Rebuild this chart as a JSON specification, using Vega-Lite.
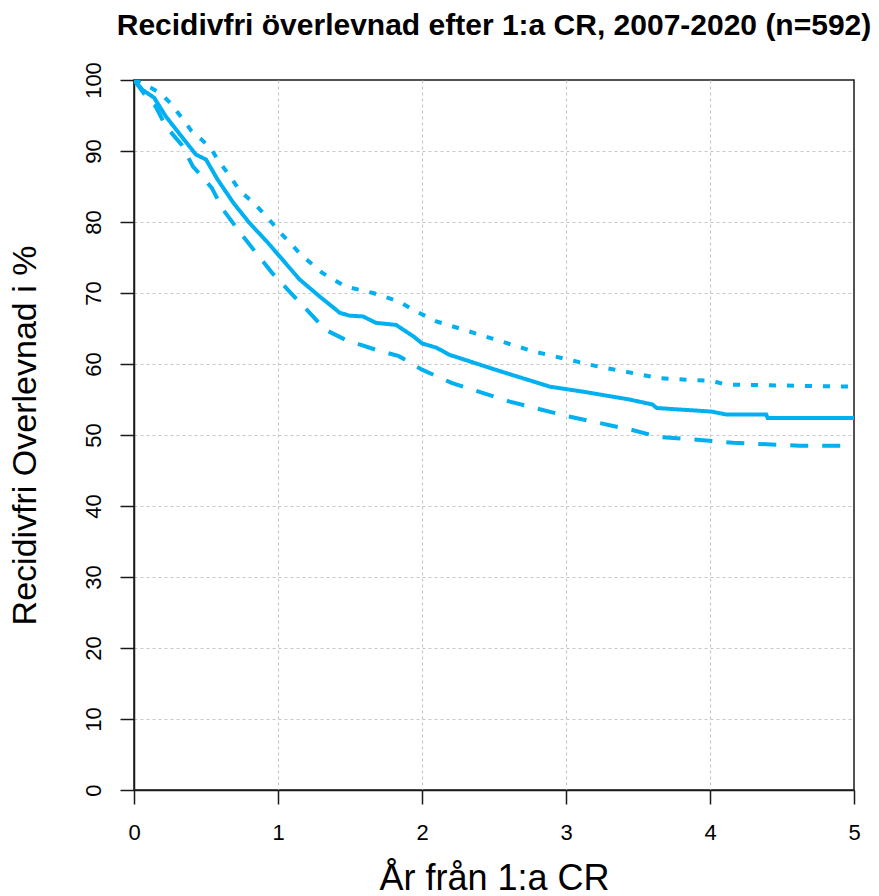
{
  "$schema": "https://vega.github.io/schema/vega-lite/v6.json",
  "width": 720,
  "height": 710,
  "autosize": {"type": "none"},
  "padding": {"left": 134, "top": 80, "right": 25, "bottom": 106},
  "background": "white",
  "title": {
    "text": "Recidivfri överlevnad efter 1:a CR, 2007-2020 (n=592)",
    "font": "Liberation Sans",
    "fontSize": 30,
    "fontWeight": "bold",
    "color": "black",
    "anchor": "middle",
    "frame": "group",
    "baseline": "alphabetic",
    "offset": -3
  },
  "config": {
    "view": {"stroke": "#1a1a1a", "strokeWidth": 1.5},
    "axis": {
      "labelFont": "Liberation Sans",
      "titleFont": "Liberation Sans",
      "labelColor": "#000",
      "titleColor": "#000",
      "titleFontWeight": "normal",
      "domainColor": "#1a1a1a",
      "domainWidth": 1.5,
      "tickColor": "#1a1a1a",
      "tickWidth": 1.5,
      "tickSize": 14,
      "gridColor": "#c8c8c8",
      "gridDash": [3, 3],
      "gridWidth": 1.2
    }
  },
  "data": {
    "values": [
      {"serie": "est", "t": 0, "s": 100},
      {"serie": "est", "t": 0.03, "s": 99.3},
      {"serie": "est", "t": 0.06, "s": 98.6},
      {"serie": "est", "t": 0.14, "s": 97.5},
      {"serie": "est", "t": 0.22, "s": 94.9},
      {"serie": "est", "t": 0.34, "s": 91.8},
      {"serie": "est", "t": 0.43, "s": 89.5},
      {"serie": "est", "t": 0.5, "s": 88.8},
      {"serie": "est", "t": 0.58, "s": 86.0},
      {"serie": "est", "t": 0.69, "s": 82.7},
      {"serie": "est", "t": 0.8, "s": 79.9},
      {"serie": "est", "t": 0.92, "s": 77.3},
      {"serie": "est", "t": 1.01, "s": 75.2},
      {"serie": "est", "t": 1.15, "s": 71.9},
      {"serie": "est", "t": 1.29, "s": 69.5},
      {"serie": "est", "t": 1.43, "s": 67.2},
      {"serie": "est", "t": 1.5, "s": 66.8},
      {"serie": "est", "t": 1.59, "s": 66.7},
      {"serie": "est", "t": 1.68, "s": 65.8},
      {"serie": "est", "t": 1.82, "s": 65.5},
      {"serie": "est", "t": 1.94, "s": 63.9},
      {"serie": "est", "t": 2.0, "s": 62.9},
      {"serie": "est", "t": 2.1, "s": 62.3},
      {"serie": "est", "t": 2.19, "s": 61.3},
      {"serie": "est", "t": 2.54, "s": 59.0},
      {"serie": "est", "t": 2.89, "s": 56.8},
      {"serie": "est", "t": 3.12, "s": 56.1},
      {"serie": "est", "t": 3.44, "s": 55.0},
      {"serie": "est", "t": 3.6, "s": 54.3},
      {"serie": "est", "t": 3.63, "s": 53.8},
      {"serie": "est", "t": 4.01, "s": 53.3},
      {"serie": "est", "t": 4.11, "s": 52.9},
      {"serie": "est", "t": 4.39, "s": 52.9},
      {"serie": "est", "t": 4.4, "s": 52.4},
      {"serie": "est", "t": 5.0, "s": 52.4},
      {"serie": "upper", "t": 0, "s": 100},
      {"serie": "upper", "t": 0.08, "s": 99.3},
      {"serie": "upper", "t": 0.18, "s": 98.2},
      {"serie": "upper", "t": 0.25, "s": 96.8},
      {"serie": "upper", "t": 0.35, "s": 94.2},
      {"serie": "upper", "t": 0.4, "s": 92.8},
      {"serie": "upper", "t": 0.47, "s": 91.6},
      {"serie": "upper", "t": 0.54, "s": 90.2},
      {"serie": "upper", "t": 0.58, "s": 88.8},
      {"serie": "upper", "t": 0.65, "s": 86.9},
      {"serie": "upper", "t": 0.74, "s": 84.3},
      {"serie": "upper", "t": 0.83, "s": 82.7},
      {"serie": "upper", "t": 0.92, "s": 80.8},
      {"serie": "upper", "t": 1.02, "s": 78.4},
      {"serie": "upper", "t": 1.17, "s": 75.2},
      {"serie": "upper", "t": 1.31, "s": 72.8},
      {"serie": "upper", "t": 1.47, "s": 70.9},
      {"serie": "upper", "t": 1.66, "s": 70.0},
      {"serie": "upper", "t": 1.84, "s": 68.8},
      {"serie": "upper", "t": 1.94, "s": 67.6},
      {"serie": "upper", "t": 2.1, "s": 66.0},
      {"serie": "upper", "t": 2.31, "s": 64.7},
      {"serie": "upper", "t": 2.77, "s": 61.8},
      {"serie": "upper", "t": 3.21, "s": 59.7},
      {"serie": "upper", "t": 3.65, "s": 58.0},
      {"serie": "upper", "t": 4.02, "s": 57.6},
      {"serie": "upper", "t": 4.11, "s": 57.1},
      {"serie": "upper", "t": 5.0, "s": 56.8},
      {"serie": "lower", "t": 0, "s": 100},
      {"serie": "lower", "t": 0.04, "s": 98.9},
      {"serie": "lower", "t": 0.11, "s": 97.0},
      {"serie": "lower", "t": 0.15, "s": 96.3},
      {"serie": "lower", "t": 0.22, "s": 93.5},
      {"serie": "lower", "t": 0.33, "s": 90.9},
      {"serie": "lower", "t": 0.41, "s": 87.8},
      {"serie": "lower", "t": 0.45, "s": 86.9},
      {"serie": "lower", "t": 0.54, "s": 84.8},
      {"serie": "lower", "t": 0.62, "s": 81.7},
      {"serie": "lower", "t": 0.73, "s": 78.7},
      {"serie": "lower", "t": 0.85, "s": 75.6},
      {"serie": "lower", "t": 0.96, "s": 72.8},
      {"serie": "lower", "t": 1.08, "s": 70.2},
      {"serie": "lower", "t": 1.22, "s": 67.2},
      {"serie": "lower", "t": 1.33, "s": 64.8},
      {"serie": "lower", "t": 1.47, "s": 63.4},
      {"serie": "lower", "t": 1.68, "s": 62.0},
      {"serie": "lower", "t": 1.84, "s": 61.1},
      {"serie": "lower", "t": 2.0, "s": 59.2},
      {"serie": "lower", "t": 2.21, "s": 57.3},
      {"serie": "lower", "t": 2.61, "s": 54.7},
      {"serie": "lower", "t": 3.0, "s": 52.7},
      {"serie": "lower", "t": 3.23, "s": 51.7},
      {"serie": "lower", "t": 3.46, "s": 50.7},
      {"serie": "lower", "t": 3.65, "s": 49.7},
      {"serie": "lower", "t": 3.93, "s": 49.3},
      {"serie": "lower", "t": 4.16, "s": 48.9},
      {"serie": "lower", "t": 4.62, "s": 48.5},
      {"serie": "lower", "t": 5.0, "s": 48.5}
    ]
  },
  "mark": {"type": "line", "color": "#00B0F0", "strokeWidth": 4, "clip": true},
  "encoding": {
    "x": {
      "field": "t",
      "type": "quantitative",
      "scale": {"domain": [0, 5], "nice": false, "zero": false},
      "axis": {
        "title": "År från 1:a CR",
        "titleFontSize": 36,
        "titlePadding": 18,
        "values": [0, 1, 2, 3, 4, 5],
        "labelFontSize": 22,
        "labelPadding": 18,
        "labelBaseline": "top",
        "labelFlush": false,
        "format": "d",
        "gridOpacity": {"condition": {"test": "datum.value === 5 || datum.value === 0", "value": 0}, "value": 1}
      }
    },
    "y": {
      "field": "s",
      "type": "quantitative",
      "scale": {"domain": [0, 100], "nice": false},
      "axis": {
        "title": "Recidivfri Overlevnad i %",
        "titleFontSize": 34,
        "titlePadding": 40,
        "values": [0, 10, 20, 30, 40, 50, 60, 70, 80, 90, 100],
        "labelFontSize": 22,
        "labelAngle": -90,
        "labelAlign": "center",
        "labelBaseline": "bottom",
        "labelPadding": 15,
        "labelFlush": false,
        "gridOpacity": {"condition": {"test": "datum.value === 100 || datum.value === 0", "value": 0}, "value": 1}
      }
    },
    "detail": {"field": "serie", "type": "nominal"},
    "strokeDash": {
      "field": "serie",
      "type": "nominal",
      "scale": {"domain": ["est", "upper", "lower"], "range": [[1, 0], [7, 11], [18, 14]]},
      "legend": null
    },
    "order": {"field": "t", "type": "quantitative"}
  }
}
